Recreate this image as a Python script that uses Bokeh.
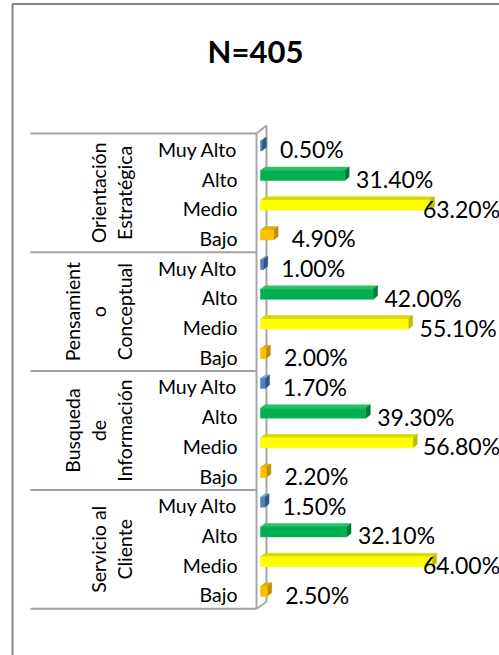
import numpy as np
from bokeh.plotting import figure
from bokeh.models import Range1d
from bokeh.core.properties import value
from bokeh.embed import file_html
from bokeh.resources import INLINE

# ---------------- data ----------------
title_text = "N=405"
groups = ["Orientación\nEstratégica", "Pensamient\no\nConceptual",
          "Busqueda\nde\nInformación", "Servicio al\nCliente"]
levels = ["Muy Alto", "Alto", "Medio", "Bajo"]
muy_alto = [0.5, 1.0, 1.7, 1.5]
alto = [31.4, 42.0, 39.3, 32.1]
medio = [63.2, 55.1, 56.8, 64.0]
bajo = [4.9, 2.0, 2.2, 2.5]

# ---------------- layout constants (canvas pixels) ----------------
W, H = 499, 655
X0, SX = 260.0, 2.68     # pixel of value 0, pixels per percent
Y0, SY = 133.0, 29.7     # pixel of first row top, pixels per row
FONT = "Lato"

def X(px):
    return (px - X0) / SX

def Y(py):
    return (py - Y0) / SY

def ddx(px):
    return px / SX

def ddy(px):
    return px / SY

p = figure(width=W, height=H,
           x_range=Range1d(X(0), X(W)), y_range=Range1d(Y(H), Y(0)),
           output_backend="svg", toolbar_location=None,
           x_axis_location=None, y_axis_location=None,
           min_border=0, outline_line_color=None,
           background_fill_color="white", border_fill_color="white")
p.xgrid.visible = False
p.ygrid.visible = False

# chart-area frame
p.line(x=[X(12), X(12), X(W + 10)], y=[Y(H + 10), Y(3.5), Y(3.5)],
       line_color="#868686", line_width=2)

# title
p.text(x=[X(255)], y=[Y(50)], text=[title_text], text_font=value(FONT),
       text_font_style="bold", text_font_size=value("31px"),
       text_align="center", text_baseline="middle", text_color="black")

n_rows = len(groups) * len(levels)

# category axis separators
sep_rows = [g * len(levels) for g in range(len(groups) + 1)]
p.multi_line(xs=[[X(30), X(256)] for _ in sep_rows],
             ys=[[r, r] for r in sep_rows],
             line_color="#A0A0A0", line_width=2)

# 3D wall of the category axis
wall_color = "#A6A6A6"
p.line(x=[X(256), X(256)], y=[0, n_rows], line_color=wall_color, line_width=2)
p.line(x=[X(266), X(266)], y=[0 - ddy(8), n_rows - ddy(7)], line_color=wall_color, line_width=2)
p.line(x=[X(256), X(266)], y=[0, -ddy(8)], line_color=wall_color, line_width=2)
p.line(x=[X(256), X(266)], y=[n_rows, n_rows - ddy(7)], line_color=wall_color, line_width=2)

# bars
series = [
    (muy_alto, "#4F81BD", "#2F5788", "#7DA2D0"),
    (alto, "#00B050", "#007A38", "#2CC06A"),
    (medio, "#FFFF00", "#BDBD00", "#D9D900"),
    (bajo, "#FFC000", "#C08F00", "#E6AC00"),
]
FT, FB, DX, DY = 7.5, 2.5, 4.5, 3.5   # front top/bottom, depth (px)

lab_x, lab_y, lab_t = [], [], []
clamp = X(461 - 50)
for li, (vals, cf, cs, ct) in enumerate(series):
    yc = [g * len(levels) + li + 0.5 for g in range(len(groups))]
    top = [y - ddy(FT) for y in yc]
    bot = [y + ddy(FB) for y in yc]
    # top face
    p.patches(xs=[[0, v, v + ddx(DX), ddx(DX)] for v in vals],
              ys=[[t, t, t - ddy(DY), t - ddy(DY)] for t in top],
              fill_color=ct, line_color=ct, line_width=0.5)
    # side face
    p.patches(xs=[[v, v + ddx(DX), v + ddx(DX), v] for v in vals],
              ys=[[t, t - ddy(DY), b - ddy(DY), b] for t, b in zip(top, bot)],
              fill_color=cs, line_color=cs, line_width=0.5)
    # front face
    p.quad(left=[0] * len(vals), right=vals, top=top, bottom=bot,
           fill_color=cf, line_color=cf, line_width=0.5)
    for v, y in zip(vals, yc):
        lab_x.append(min(v, clamp))
        lab_y.append(y)
        lab_t.append(f"{v:.2f}%")

# value labels
p.text(x=lab_x, y=lab_y, text=lab_t, x_offset=50, y_offset=1,
       text_font=value(FONT), text_font_size=value("23px"),
       text_align="center", text_baseline="middle", text_color="black")

# category labels
cat_y = [g * len(levels) + li + 0.5 for g in range(len(groups)) for li in range(len(levels))]
cat_t = [levels[li] for g in range(len(groups)) for li in range(len(levels))]
p.text(x=[0] * len(cat_y), y=cat_y, text=cat_t, x_offset=-23, y_offset=1,
       text_font=value(FONT), text_font_size=value("19.5px"),
       text_align="right", text_baseline="middle", text_color="black")

# group labels (rotated)
grp_y = [g * len(levels) + len(levels) / 2 for g in range(len(groups))]
p.text(x=[0] * len(groups), y=grp_y, text=groups, x_offset=-124,
       angle=np.pi / 2, text_font=value(FONT), text_font_size=value("19.5px"),
       text_align="center", text_baseline="bottom", text_line_height=1.15,
       text_color="black")

open("out.html", "w").write(file_html(p, INLINE))
